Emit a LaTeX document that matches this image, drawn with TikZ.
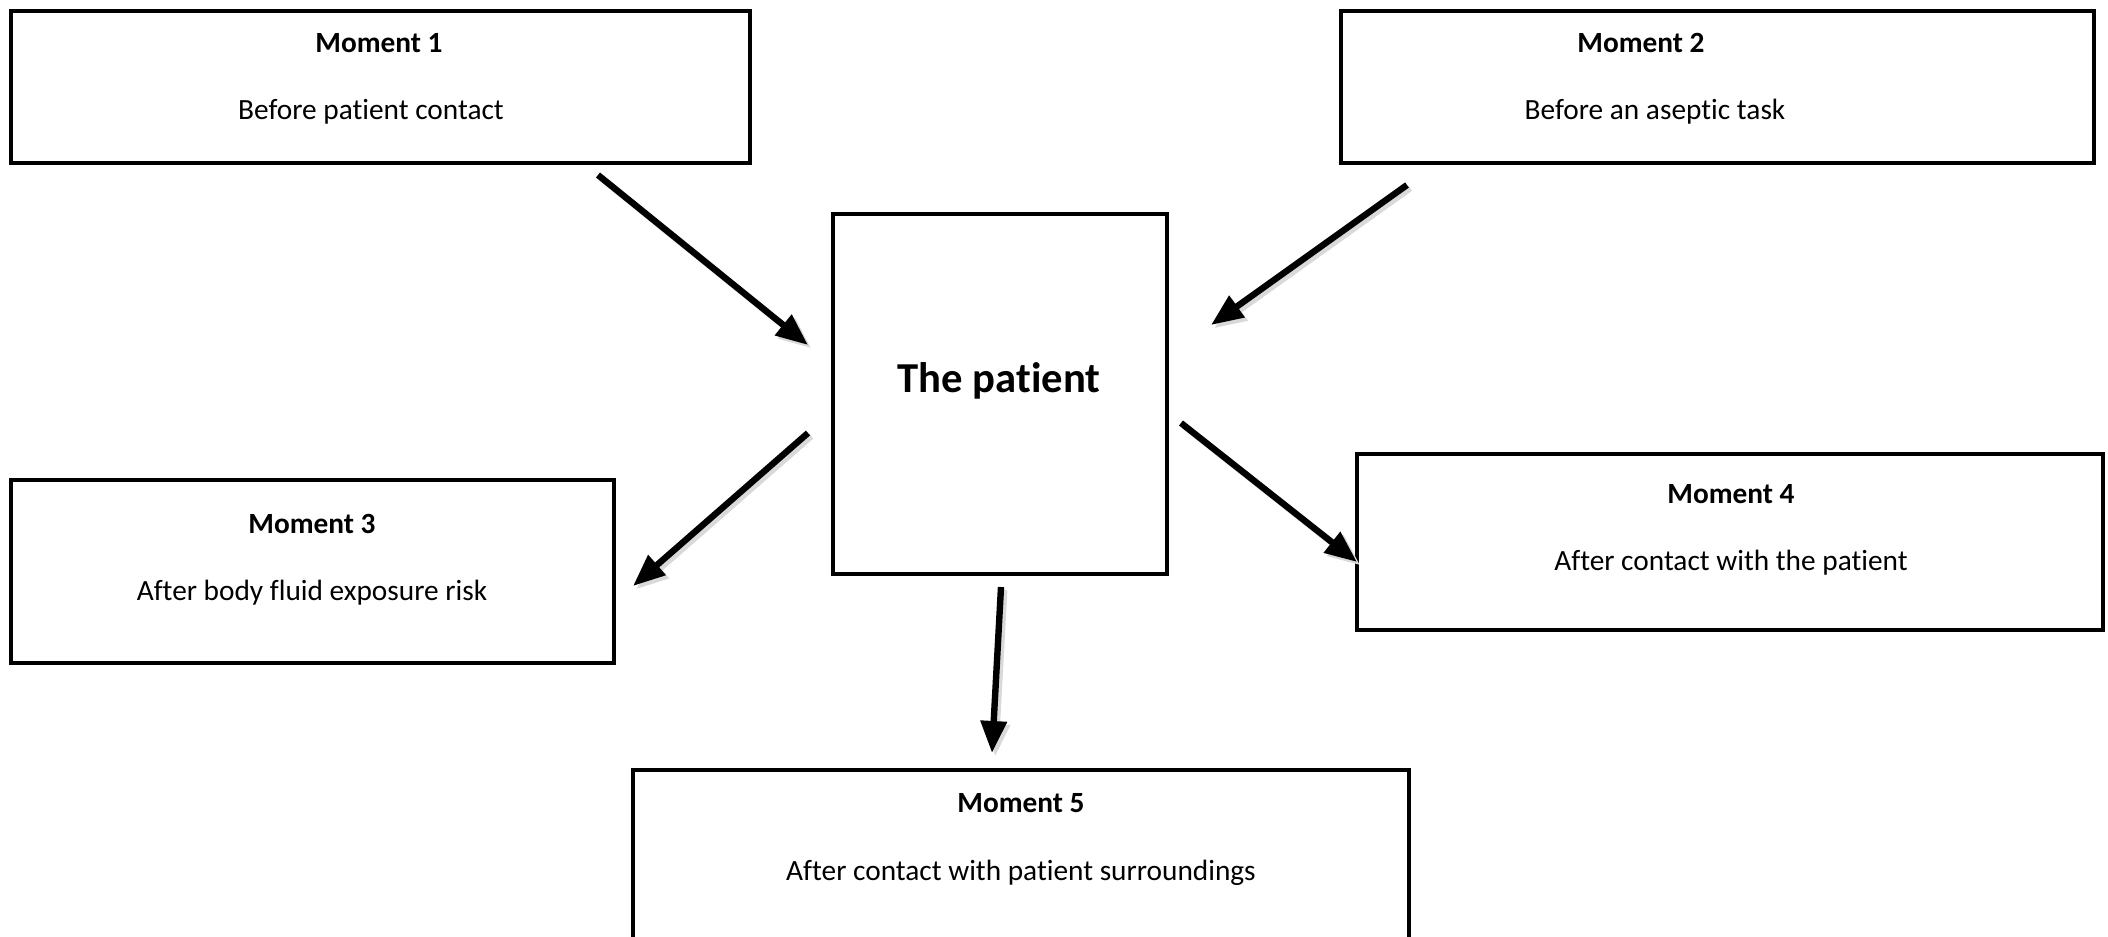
\documentclass[tikz,border=0pt]{standalone}
\usepackage{fontspec}
\setmainfont{Carlito}[Ligatures=NoCommon]
\usetikzlibrary{arrows.meta}
\tikzset{
  box/.style={draw, line width=1.7pt, inner sep=0pt},
  title/.style={font=\fontsize{11}{13}\selectfont\bfseries, inner sep=0pt},
  body/.style={font=\fontsize{11}{13}\selectfont, inner sep=0pt},
  flow/.style={line width=2.4pt, -{Triangle[length=12pt,width=9.5pt]},
    preaction={draw=black!15, line width=2.4pt, transform canvas={shift={(1.2pt,-1.2pt)}}}}
}
\begin{document}
\begin{tikzpicture}[x=0.375pt, y=-0.375pt]
    \useasboundingbox (0,0) rectangle (2108,937);
    \node[box, minimum width=277pt, minimum height=57pt] (m1) at (380.5,87) {};
    \node[box, minimum width=282.4pt, minimum height=57pt] (m2) at (1717.5,87) {};
    \node[box, minimum width=125.3pt, minimum height=135pt] (pat) at (1000,394) {};
    \node[box, minimum width=226.1pt, minimum height=68.6pt] (m3) at (312.5,571.5) {};
    \node[box, minimum width=279.8pt, minimum height=66pt] (m4) at (1730,542) {};
    \node[box, minimum width=291pt, minimum height=75pt] (m5) at (1021,870) {};

    \node[title] (t1) at (379,43) {Moment 1};
    \node[body] (b1) at (371,112) {Before patient contact};
    \node[title] (t2) at (1641,43) {Moment 2};
    \node[body] (b2) at (1655,112) {Before an aseptic task};
    \node[font=\fontsize{16}{19}\selectfont\bfseries, inner sep=0pt] (pt) at (999,381) {The patient};
    \node[title] (t3) at (312,524) {Moment 3};
    \node[body] (b3) at (312,593) {After body fluid exposure risk};
    \node[title] (t4) at (1731,494) {Moment 4};
    \node[body] (b4) at (1731,563) {After contact with the patient};
    \node[title] (t5) at (1021,803) {Moment 5};
    \node[body] (b5) at (1021,873) {After contact with patient surroundings};

    \coordinate (a1) at (598,175);  \coordinate (p1) at (808,345);
    \coordinate (a2) at (1407,185); \coordinate (p2) at (1211,325);
    \coordinate (p3) at (808,433);  \coordinate (a3) at (633,586);
    \coordinate (p4) at (1181,423); \coordinate (a4) at (1357,562);
    \coordinate (p5) at (1001,587); \coordinate (a5) at (992,753);

    \draw[flow] (a1) -- (p1);
    \draw[flow] (a2) -- (p2);
    \draw[flow] (p3) -- (a3);
    \draw[flow] (p4) -- (a4);
    \draw[flow] (p5) -- (a5);
\end{tikzpicture}
\end{document}
